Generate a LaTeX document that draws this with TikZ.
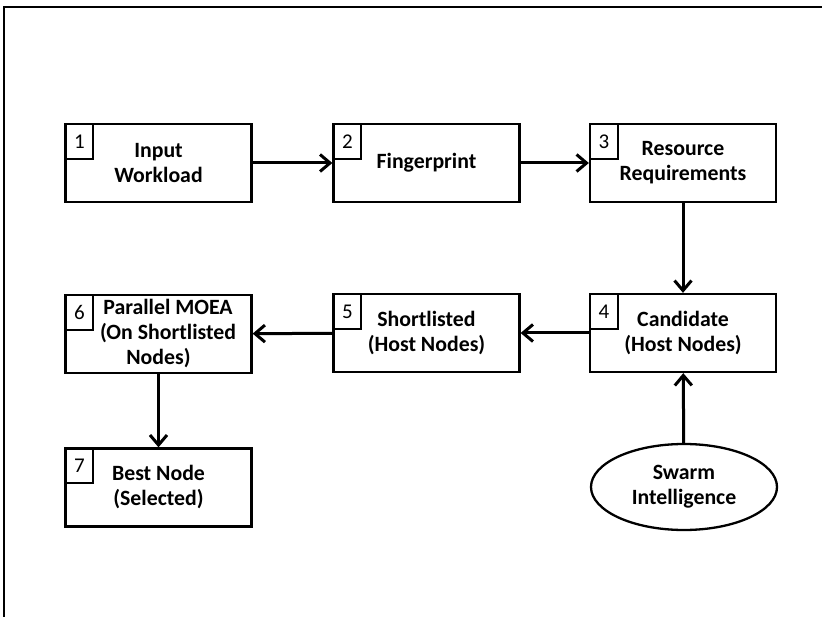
\documentclass[tikz,border=0pt]{standalone}
\usepackage{fontspec}
\setmainfont{Carlito}
\usetikzlibrary{arrows.meta,shapes.geometric}
\begin{document}
\begin{tikzpicture}[x=1pt,y=-1pt,
  box/.style={draw,line width=2.3pt,minimum width=186pt,minimum height=78pt,inner sep=0pt,align=center,font=\bfseries\fontsize{21.8}{25}\selectfont},
  ell/.style={draw,ellipse,line width=2.3pt,minimum width=186pt,minimum height=86pt,inner sep=0pt,align=center,font=\bfseries\fontsize{21.8}{25}\selectfont},
  numbox/.style={draw,line width=2pt,minimum width=28pt,minimum height=35pt,inner sep=0pt,anchor=north west,font=\fontsize{21}{22}\selectfont},
  arr/.style={line width=3pt,-{Straight Barb[length=10pt,width=17pt]}}]
\useasboundingbox (0,0) rectangle (822,617);
\draw[line width=2.6pt] (4,617) -- (4,7) -- (822,7);

\node[box] (b1) at (158.5,163) {Input\\Workload};
\node[box] (b2) at (426.5,163) {Fingerprint};
\node[box] (b3) at (683,163) {Resource\\Requirements};
\node[box] (b4) at (683,333) {Candidate\\(Host Nodes)};
\node[box] (b5) at (426.5,333) {Shortlisted\\(Host Nodes)};
\node[box] (b6) at (158.5,334) {\hspace*{19pt}Parallel MOEA\\\hspace*{19pt}(On Shortlisted\\Nodes)};
\node[box] (b7) at (158.5,487.5) {Best Node\\(Selected)};
\node[ell] (sw) at (684,487) {Swarm\\Intelligence};

\node[numbox] (n1) at (b1.north west) {1};
\node[numbox] (n2) at (b2.north west) {2};
\node[numbox] (n3) at (b3.north west) {3};
\node[numbox] (n4) at (b4.north west) {4};
\node[numbox] (n5) at (b5.north west) {5};
\node[numbox] (n6) at (b6.north west) {6};
\node[numbox] (n7) at (b7.north west) {7};

\draw[arr] (b1) -- (b2);
\draw[arr] (b2) -- (b3);
\draw[arr] (b3) -- (b4);
\draw[arr] (b4) -- (b5);
\draw[arr] (b5) -- (b6);
\draw[arr] (b6) -- (b7);
\draw[arr] (sw) -- (b4);
\end{tikzpicture}
\end{document}
